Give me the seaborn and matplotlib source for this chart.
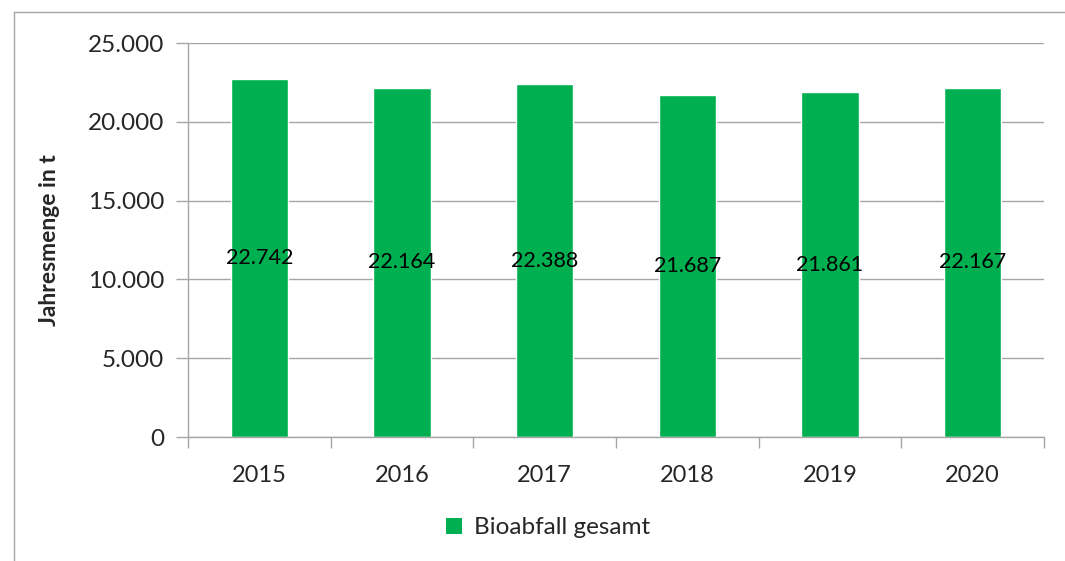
import numpy as np
import pandas as pd
import matplotlib
matplotlib.use("Agg")
import matplotlib.pyplot as plt
import seaborn as sns
from matplotlib.lines import Line2D
from matplotlib.patches import Patch

# data
years = ['2015', '2016', '2017', '2018', '2019', '2020']
amounts = [22742, 22164, 22388, 21687, 21861, 22167]
series_name = 'Bioabfall gesamt'

GREEN = '#00B050'
GRID = '#A6A6A6'


def de_fmt(v):
    # German thousands separator
    return f"{v:,.0f}".replace(",", ".")


sns.set_theme(style='white')
plt.rcParams['font.family'] = ['Lato', 'DejaVu Sans']

df = pd.DataFrame({'year': years, 'amount': amounts})

fig = plt.figure(figsize=(10.65, 5.61), dpi=100)
ax = fig.add_axes([188 / 1065, 1 - 437 / 561, (1044 - 188) / 1065, (437 - 43) / 561])

sns.barplot(data=df, x='year', y='amount', color=GREEN, width=0.4,
            saturation=1, ax=ax, label=series_name)

ax.set_ylim(0, 25000)
ax.set_xlim(-0.5, 5.5)
ax.set_yticks(np.arange(0, 25001, 5000))
ax.set_yticklabels([de_fmt(v) for v in np.arange(0, 25001, 5000)], fontsize=17.5)
ax.set_xticklabels(years, fontsize=17)
ax.yaxis.grid(True, color=GRID, linewidth=1)
ax.set_axisbelow(True)

for side in ['top', 'right']:
    ax.spines[side].set_visible(False)
for side in ['left', 'bottom']:
    ax.spines[side].set_color(GRID)
    ax.spines[side].set_linewidth(1)

ax.tick_params(axis='y', length=9, width=1, color=GRID, pad=8, left=True)
ax.tick_params(axis='x', which='major', length=0, pad=20)
ax.set_xticks(np.arange(-0.5, 6, 1), minor=True)
ax.tick_params(axis='x', which='minor', length=8, width=1, color=GRID, bottom=True)

ax.set_xlabel('')
ax.set_ylabel('Jahresmenge in t', fontsize=16.5, fontweight='bold', labelpad=20)

ax.bar_label(ax.containers[0], labels=[de_fmt(v) for v in amounts],
             label_type='center', fontsize=15.5, color='black')

if ax.get_legend() is not None:
    ax.get_legend().remove()
handles = [Patch(facecolor=GREEN, edgecolor='none')]
fig.legend(handles, [series_name], loc='center', bbox_to_anchor=(548 / 1065, 1 - 528 / 561),
           frameon=False, fontsize=17.5, handlelength=0.65, handleheight=0.65, handletextpad=0.5)

# outer chart frame (left and top edges)
fig.add_artist(Line2D([14 / 1065, 14 / 1065], [0, 1 - 12 / 561], transform=fig.transFigure,
                      color=GRID, linewidth=1))
fig.add_artist(Line2D([14 / 1065, 1], [1 - 12 / 561, 1 - 12 / 561], transform=fig.transFigure,
                      color=GRID, linewidth=1))

fig.savefig('out.png', dpi=100, facecolor='white')
